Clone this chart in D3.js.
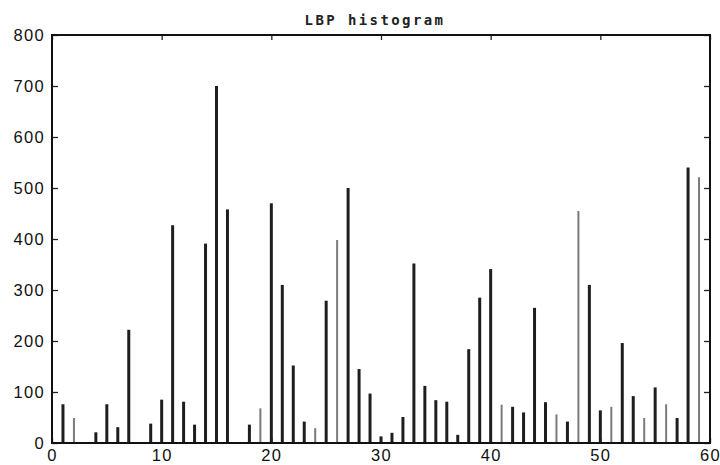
<!DOCTYPE html>
<html>
<head>
<meta charset="utf-8">
<script src="https://cdn.jsdelivr.net/npm/d3@7"></script>
<style>
  html, body { margin: 0; padding: 0; background: #fff; }
  svg { display: block; }
</style>
</head>
<body>
<svg id="chart" width="720" height="465"></svg>
<script>
// ---- data ----
const title = "LBP histogram";
const bins = d3.range(1, 60); // 1..59
const counts = [
  76, 49, 0, 21, 76, 31, 222, 0, 38, 85,
  427, 81, 36, 391, 700, 458, 0, 36, 68, 470,
  310, 152, 42, 29, 279, 398, 500, 145, 97, 13,
  20, 51, 352, 112, 84, 81, 16, 184, 285, 341,
  75, 71, 60, 265, 80, 56, 42, 455, 310, 64,
  71, 196, 92, 49, 109, 76, 49, 540, 521
];
const xTicks = [0, 10, 20, 30, 40, 50, 60];
const yTicks = [0, 100, 200, 300, 400, 500, 600, 700, 800];
// bins that appear lighter in the picture
const lightBins = [2, 19, 24, 26, 41, 46, 48, 51, 54, 56, 59];

// ---- layout ----
const svg = d3.select("#chart");
const mLeft = 52, mRight = 710, mTop = 35, mBottom = 443;
const x = d3.scaleLinear().domain([0, 60]).range([mLeft, mRight]);
const y = d3.scaleLinear().domain([0, 800]).range([mBottom, mTop]);

const data = bins.map((b, i) => ({ bin: b, value: counts[i] }));

// bars (stems)
svg.append("g").selectAll("line")
  .data(data.filter(d => d.value > 0))
  .join("line")
  .attr("x1", d => x(d.bin)).attr("x2", d => x(d.bin))
  .attr("y1", y(0)).attr("y2", d => y(d.value))
  .attr("stroke", d => lightBins.includes(d.bin) ? "#7a7a7a" : "#1e1e1e")
  .attr("stroke-width", d => lightBins.includes(d.bin) ? 2 : 3);

const fontTick = "'Liberation Sans', Arial, sans-serif";

// axes (ticks inward)
const axB = svg.append("g").attr("transform", `translate(0,${mBottom})`)
  .call(d3.axisBottom(x).tickValues(xTicks).tickSize(-5).tickPadding(6).tickFormat(d3.format("d")));
const axT = svg.append("g").attr("transform", `translate(0,${mTop})`)
  .call(d3.axisTop(x).tickValues(xTicks).tickSize(-5).tickFormat(""));
const axL = svg.append("g").attr("transform", `translate(${mLeft},0)`)
  .call(d3.axisLeft(y).tickValues(yTicks).tickSize(-6).tickPadding(7).tickFormat(d3.format("d")));
const axR = svg.append("g").attr("transform", `translate(${mRight},0)`)
  .call(d3.axisRight(y).tickValues(yTicks).tickSize(-6).tickFormat(""));

[axB, axT, axL, axR].forEach(g => {
  g.select(".domain").remove();
  g.selectAll(".tick line").attr("stroke", "#222").attr("stroke-width", 1.3);
  g.selectAll("text")
    .attr("fill", "#111")
    .style("font-family", fontTick)
    .style("font-size", "16.5px")
    .style("letter-spacing", "1.3px");
});
axB.selectAll("text").attr("dy", "0.71em");
axL.selectAll("text").attr("dy", "0.36em");

// frame
svg.append("rect")
  .attr("x", mLeft).attr("y", mTop)
  .attr("width", mRight - mLeft).attr("height", mBottom - mTop)
  .attr("fill", "none").attr("stroke", "#111").attr("stroke-width", 2);

// title
svg.append("text")
  .attr("x", (mLeft + mRight) / 2 - 6).attr("y", 24.5)
  .attr("text-anchor", "middle")
  .style("font-family", "'DejaVu Sans Mono', monospace")
  .style("font-weight", "bold")
  .style("font-size", "14px")
  .style("letter-spacing", "2.4px")
  .attr("fill", "#222")
  .text(title);
</script>
</body>
</html>
